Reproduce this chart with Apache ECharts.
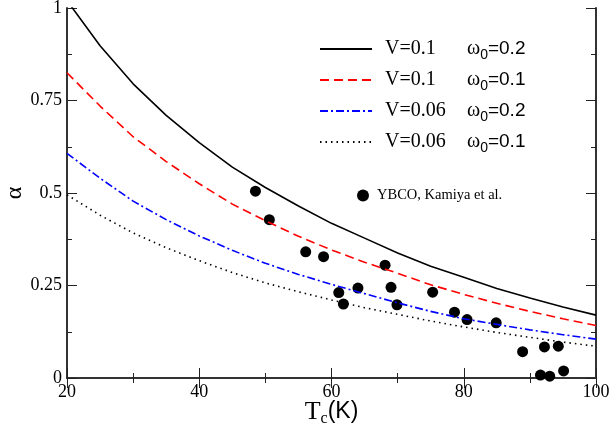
<!DOCTYPE html>
<html><head><meta charset="utf-8">
<script src="https://cdn.jsdelivr.net/npm/echarts@6/dist/echarts.min.js"></script>
<style>html,body{margin:0;padding:0;background:#fff}#c{width:609px;height:432px}</style>
</head><body><div id="c"></div>
<script>
const temps = [20,25,30,35,40,45,50,55,60,65,70,75,80,85,90,95,100];
const curveV01w02 = [1.02,0.898,0.795,0.71,0.636,0.570,0.515,0.465,0.418,0.378,0.338,0.302,0.272,0.242,0.216,0.192,0.170];
const curveV01w01 = [0.825,0.735,0.652,0.585,0.525,0.47,0.425,0.383,0.346,0.313,0.283,0.252,0.226,0.202,0.180,0.160,0.142];
const curveV006w02 = [0.607,0.54,0.478,0.428,0.384,0.345,0.31,0.28,0.253,0.228,0.203,0.18,0.16,0.145,0.13,0.117,0.105];
const curveV006w01 = [0.495,0.44,0.392,0.352,0.317,0.285,0.257,0.233,0.211,0.19,0.172,0.154,0.138,0.123,0.11,0.097,0.086];
const ybcoTc = [48.5,50.6,56.1,58.8,68.1,61.1,64.0,69.0,61.8,69.9,75.3,78.6,80.5,84.9,88.9,92.2,94.3,91.6,93.0,95.1];
const ybcoAlpha = [0.505,0.428,0.341,0.328,0.305,0.231,0.243,0.245,0.200,0.198,0.232,0.178,0.158,0.149,0.071,0.084,0.086,0.008,0.005,0.019];
const xTicks = [20,40,60,80,100];
const yTicks = [0,0.25,0.5,0.75,1];

const SERIF = "'Liberation Serif', 'Times New Roman', 'DejaVu Serif', serif";
const SANS = "'Liberation Sans', Arial, sans-serif";
const pair = (a,b) => temps.map((t,i)=>[t,b[i]]);
const names = ['a','b','c','d'];
const legendTexts = {
  a:['V=0.1','0.2'], b:['V=0.1','0.1'], c:['V=0.06','0.2'], d:['V=0.06','0.1']
};
const axisCommon = {
  axisLine:{show:true,lineStyle:{color:'#333',width:2}},
  axisTick:{show:true,inside:true,length:10,lineStyle:{color:'#222',width:1}},
  minorTick:{show:true,splitNumber:2,length:5,lineStyle:{color:'#222',width:1}},
  splitLine:{show:false}
};
const chart = echarts.init(document.getElementById('c'));
chart.setOption({
  animation:false,
  textStyle:{fontFamily:SERIF},
  grid:{left:67,top:8,right:13,bottom:54,containLabel:false,outerBoundsMode:'none'},
  xAxis:[
    Object.assign({type:'value',min:20,max:100,interval:20,position:'bottom',
      axisLabel:{fontFamily:SERIF,fontSize:18,color:'#000',margin:5},
      name:'{t|T}{c|c}{k|(K)}',nameLocation:'middle',nameGap:19,nameMoveOverlap:false,
      nameTextStyle:{rich:{
        t:{fontFamily:SERIF,fontSize:26,color:'#000'},
        c:{fontFamily:SERIF,fontSize:16,color:'#000',padding:[14,0,0,0]},
        k:{fontFamily:SANS,fontSize:23,color:'#000'}
      }}},axisCommon),
    Object.assign({type:'value',min:20,max:100,interval:20,position:'top',axisLabel:{show:false}},axisCommon)
  ],
  yAxis:[
    Object.assign({type:'value',min:0,max:1,interval:0.25,position:'left',
      axisLabel:{fontFamily:SERIF,fontSize:18,color:'#000',margin:5},
      name:'α',nameLocation:'middle',nameGap:40,nameRotate:90,nameMoveOverlap:false,
      nameTextStyle:{fontFamily:SERIF,fontSize:24,color:'#000'}},axisCommon),
    Object.assign({type:'value',min:0,max:1,interval:0.25,position:'right',axisLabel:{show:false}},axisCommon)
  ],
  legend:[{
    data:names,orient:'vertical',left:314,top:34,itemWidth:52,itemHeight:14,itemGap:8,
    itemStyle:{opacity:0},
    formatter:n=>'{v|'+legendTexts[n][0]+'}{w|ω}{s|0}{n|='+legendTexts[n][1]+'}',
    textStyle:{rich:{
      v:{fontFamily:SERIF,fontSize:20,color:'#000',width:82,padding:[0,0,0,8]},
      w:{fontFamily:SERIF,fontSize:20,color:'#000'},
      s:{fontFamily:SANS,fontSize:14,color:'#000',padding:[12,0,0,0]},
      n:{fontFamily:SANS,fontSize:19,color:'#000'}
    }}
  },{
    data:['YBCO, Kamiya et al.'],left:352,top:183,itemWidth:14,itemHeight:12,itemGap:6,
    textStyle:{fontFamily:SERIF,fontSize:14.5,color:'#000',padding:[0,0,0,2]}
  }],
  series:[
    {name:'a',type:'line',data:pair(temps,curveV01w02),showSymbol:false,symbol:'none',
      lineStyle:{color:'#000',width:1.6,type:'solid'},itemStyle:{color:'#000'}},
    {name:'b',type:'line',data:pair(temps,curveV01w01),showSymbol:false,symbol:'none',
      lineStyle:{color:'#ff0000',width:1.6,type:[9,5]},itemStyle:{color:'#ff0000'}},
    {name:'c',type:'line',data:pair(temps,curveV006w02),showSymbol:false,symbol:'none',
      lineStyle:{color:'#0000ff',width:1.6,type:[8,3,2,3]},itemStyle:{color:'#0000ff'}},
    {name:'d',type:'line',data:pair(temps,curveV006w01),showSymbol:false,symbol:'none',
      lineStyle:{color:'#000',width:1.6,type:[1.5,4]},itemStyle:{color:'#000'}},
    {name:'YBCO, Kamiya et al.',type:'scatter',data:ybcoTc.map((t,i)=>[t,ybcoAlpha[i]]),
      symbol:'circle',symbolSize:11,itemStyle:{color:'#000',opacity:1},clip:false}
  ]
});
</script></body></html>
